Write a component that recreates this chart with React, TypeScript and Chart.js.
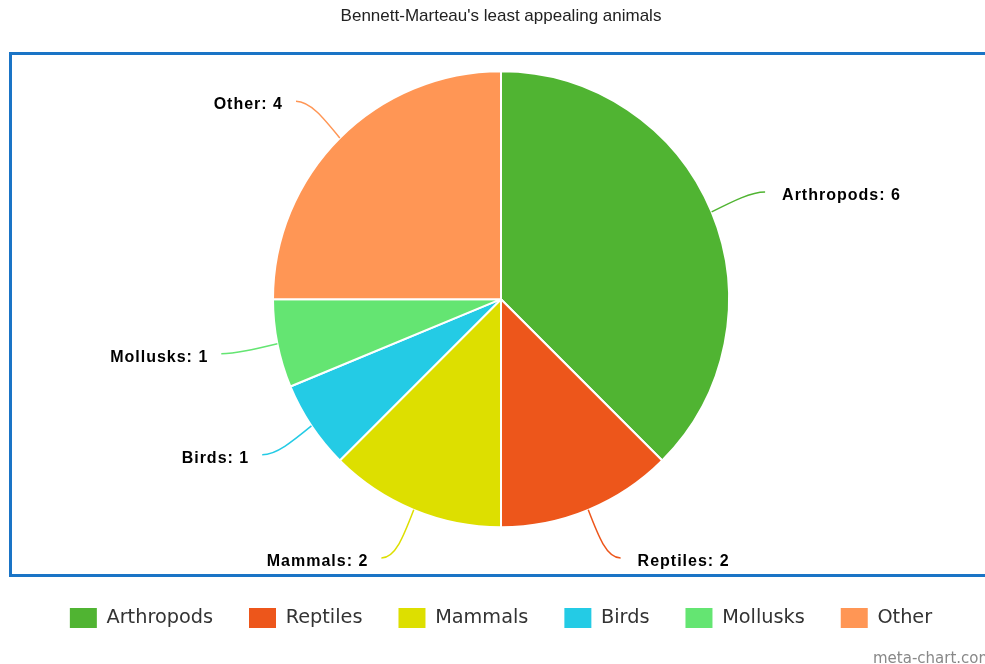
import React, { useEffect, useRef } from "react";
import { Chart, registerables } from "chart.js";

Chart.register(...registerables);

const TITLE = "Bennett-Marteau's least appealing animals";
const categories = ["Arthropods", "Reptiles", "Mammals", "Birds", "Mollusks", "Other"];
const values = [6, 2, 2, 1, 1, 4];
const colors = ["#50B432", "#ED561B", "#DDDF00", "#24CBE5", "#64E572", "#FF9655"];
const WATERMARK = "meta-chart.com";

const W = 1002;
const H = 664;

const framePlugin = {
  id: "frame",
  beforeDraw(chart: any) {
    const ctx = chart.ctx;
    ctx.save();
    ctx.fillStyle = "#ffffff";
    ctx.fillRect(0, 0, chart.width, chart.height);
    ctx.strokeStyle = "#1a74c6";
    ctx.lineWidth = 3;
    ctx.strokeRect(10.5, 53.5, chart.width - 21, 522);
    ctx.restore();
  },
  afterDraw(chart: any) {
    const ctx = chart.ctx;
    ctx.save();
    ctx.font = "15px 'DejaVu Sans'";
    ctx.fillStyle = "#888888";
    ctx.textAlign = "left";
    ctx.textBaseline = "alphabetic";
    ctx.fillText(WATERMARK, 873, 663);
    ctx.restore();
  },
};

const labelPlugin = {
  id: "pieLabels",
  afterDatasetsDraw(chart: any) {
    const ctx = chart.ctx;
    const meta = chart.getDatasetMeta(0);
    const ds = chart.data.datasets[0];
    ctx.save();
    meta.data.forEach((arc: any, i: number) => {
      const { x: cx, y: cy, startAngle, endAngle, outerRadius: r } = arc.getProps(
        ["x", "y", "startAngle", "endAngle", "outerRadius"],
        true
      );
      const mid = (startAngle + endAngle) / 2;
      const ex = cx + r * Math.cos(mid);
      const ey = cy + r * Math.sin(mid);
      const Ry = r + 52;
      const Rx = r + 57;
      const dy = Ry * Math.sin(mid);
      const dir = Math.cos(mid) >= 0 ? 1 : -1;
      const lx = cx + dir * Math.sqrt(Math.max(Rx * Rx - dy * dy, 0));
      const ly = cy + dy;
      const bx = lx - dir * 14;
      const mx = bx + (ex - bx) * 0.45;
      const my = ly + (ey - ly) * 0.45;
      ctx.beginPath();
      ctx.moveTo(lx, ly);
      ctx.bezierCurveTo(bx, ly, mx, my, ex, ey);
      ctx.strokeStyle = ds.backgroundColor[i];
      ctx.lineWidth = 1.5;
      ctx.stroke();

      ctx.font = "bold 16px 'Liberation Sans'";
      (ctx as any).letterSpacing = "1px";
      ctx.fillStyle = "#000000";
      ctx.textBaseline = "alphabetic";
      ctx.textAlign = dir > 0 ? "left" : "right";
      const text = `${chart.data.labels[i]}: ${ds.data[i]}`;
      ctx.fillText(text, lx + (dir > 0 ? 17 : -13), ly + 8);
      (ctx as any).letterSpacing = "0px";
    });
    ctx.restore();
  },
};

export default function App() {
  const ref = useRef<HTMLCanvasElement | null>(null);

  useEffect(() => {
    if (!ref.current) return;
    const baseGen = (Chart as any).overrides.pie.plugins.legend.labels.generateLabels;
    const chart = new Chart(ref.current, {
      type: "pie",
      data: {
        labels: categories,
        datasets: [
          {
            data: values,
            backgroundColor: colors,
            borderColor: "#ffffff",
            borderWidth: 2,
            radius: 228,
          } as any,
        ],
      },
      options: {
        responsive: false,
        animation: false,
        layout: { padding: { top: 0, bottom: 26, left: 0, right: 0 } },
        plugins: {
          title: {
            display: true,
            text: TITLE,
            color: "#222222",
            font: { family: "'Liberation Sans'", size: 17, weight: "normal" },
            padding: { top: 6, bottom: 0 },
          },
          legend: {
            display: true,
            position: "bottom",
            labels: {
              boxWidth: 27,
              boxHeight: 20,
              padding: 36,
              color: "#333333",
              font: { family: "'DejaVu Sans'", size: 19.3 },
              generateLabels: (c: any) =>
                baseGen(c).map((it: any) => ({ ...it, lineWidth: 0 })),
            },
          },
          tooltip: { enabled: false },
        },
      },
      plugins: [framePlugin, labelPlugin],
    });
    return () => chart.destroy();
  }, []);

  return (
    <div
      style={{
        position: "fixed",
        left: 0,
        top: 0,
        width: 985,
        height: 664,
        overflow: "hidden",
        background: "#fff",
      }}
    >
      <canvas ref={ref} width={W} height={H} style={{ display: "block", width: W, height: H }} />
    </div>
  );
}
